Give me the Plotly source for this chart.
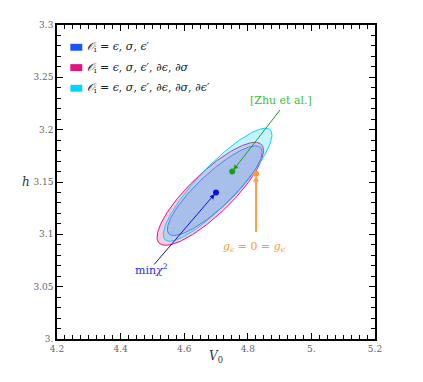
import numpy as np
import plotly.graph_objects as go

# ---- data ----
legend_labels = ["<i>𝒪</i><sub>i</sub> = <i>ϵ</i>, <i>σ</i>, <i>ϵ</i>′",
                 "<i>𝒪</i><sub>i</sub> = <i>ϵ</i>, <i>σ</i>, <i>ϵ</i>′, ∂<i>ϵ</i>, ∂<i>σ</i>",
                 "<i>𝒪</i><sub>i</sub> = <i>ϵ</i>, <i>σ</i>, <i>ϵ</i>′, ∂<i>ϵ</i>, ∂<i>σ</i>, ∂<i>ϵ</i>′"]
colors = ["#1a55f5", "#e0157f", "#00d4ff"]
line_colors = ["#5a7cf0", "#e0157f", "#18ccf8"]
# ellipse parameters (center V, center h, half-extent V, half-extent h, correlation)
ell_cV = [4.696, 4.682, 4.705]
ell_ch = [3.1417, 3.1387, 3.1474]
ell_sV = [0.149, 0.1675, 0.171]
ell_sh = [0.0428, 0.0492, 0.054]
ell_rho = [0.86, 0.84, 0.88]
fill_alpha = [0.12, 0.22, 0.24]

min_chi2 = (4.700, 3.140)
zhu = (4.751, 3.160)
g_zero = (4.826, 3.158)

x_ticks = [4.2, 4.4, 4.6, 4.8, 5.0, 5.2]
x_tick_text = ["4.2", "4.4", "4.6", "4.8", "5.", "5.2"]
y_ticks = [3.0, 3.05, 3.1, 3.15, 3.2, 3.25, 3.3]
y_tick_text = ["3.", "3.05", "3.1", "3.15", "3.2", "3.25", "3.3"]


def rgba(hexc, a):
    h = hexc.lstrip("#")
    r, g, b = int(h[0:2], 16), int(h[2:4], 16), int(h[4:6], 16)
    return f"rgba({r},{g},{b},{a})"


fig = go.Figure()
t = np.linspace(0, 2 * np.pi, 300)
order = [1, 2, 0]
for i in order:
    V = ell_cV[i] + ell_sV[i] * np.cos(t)
    h = ell_ch[i] + ell_sh[i] * (ell_rho[i] * np.cos(t) + np.sqrt(1 - ell_rho[i] ** 2) * np.sin(t))
    fig.add_trace(go.Scatter(x=V, y=h, mode="lines", fill="toself",
                             fillcolor=rgba(colors[i], fill_alpha[i]),
                             line=dict(color=line_colors[i], width=1.0),
                             showlegend=False, hoverinfo="skip"))

font_serif = "DejaVu Serif"

# legend (swatches + labels)
leg_y = [0.929, 0.8644, 0.7986]
for i in range(3):
    fig.add_shape(type="rect", xref="paper", yref="paper", x0=0.042, x1=0.0795,
                  y0=leg_y[i] - 0.011, y1=leg_y[i] + 0.011,
                  fillcolor=colors[i], line=dict(width=0))
    fig.add_annotation(x=0.089, y=leg_y[i], xref="paper", yref="paper", text=legend_labels[i],
                       showarrow=False, xanchor="left", yanchor="middle",
                       font=dict(family=font_serif, size=11, color="#222"))

# points
pts = [(min_chi2, "#1010e0"), (zhu, "#1a9e1a"), (g_zero, "#ff9a30")]
for (p, c) in pts:
    fig.add_trace(go.Scatter(x=[p[0]], y=[p[1]], mode="markers",
                             marker=dict(size=6, color=c), showlegend=False, hoverinfo="skip"))

# invisible trace on the minor-tick axes
fig.add_trace(go.Scatter(x=[None], y=[None], xaxis="x2", yaxis="y2",
                         showlegend=False, hoverinfo="skip"))

# arrows
arrows = [
    (min_chi2, (4.5016, 3.0698), "#1010e0", 1.0, 1.0),
    (zhu, (4.905, 3.2202), "#1a9e1a", 1.0, 1.0),
    (g_zero, (4.826, 3.1008), "#ffa040", 2.0, 0.6),
]
for (p, tail, c, w, s) in arrows:
    fig.add_annotation(x=p[0], y=p[1], ax=tail[0], ay=tail[1], xref="x", yref="y",
                       axref="x", ayref="y", showarrow=True, arrowhead=2, arrowsize=s,
                       arrowwidth=w, arrowcolor=c, text="", standoff=2)

labels = [
    ("min<i>χ</i><sup>2</sup>", (4.496, 3.066), "#2a2ae8"),
    ("[Zhu et al.]", (4.905, 3.2277), "#3cc03c"),
    ("<i>g<sub>ϵ</sub></i> = 0 = <i>g<sub>ϵ′</sub></i>", (4.823, 3.0876), "#ff9a30"),
]
for (txt, p, c) in labels:
    fig.add_annotation(x=p[0], y=p[1], xref="x", yref="y", text=txt, showarrow=False,
                       font=dict(family=font_serif, size=11, color=c))

fig.add_annotation(x=4.7, y=-0.09, xref="x", yref="paper", text="<i>V</i><sub>0</sub>",
                   showarrow=False, font=dict(family=font_serif, size=12, color="#333"))
fig.add_annotation(x=-0.115, y=3.15, xref="paper", yref="y", text="<i>h</i>",
                   showarrow=False, font=dict(family=font_serif, size=12, color="#333"))

axis_common = dict(showgrid=False, zeroline=False, showline=True, linecolor="black",
                   linewidth=1.5, mirror="allticks", ticks="inside", ticklen=6,
                   tickcolor="black", tickwidth=1,
                   tickfont=dict(family=font_serif, size=9, color="#666"))
minor_common = dict(ticks="inside", ticklen=4, tickcolor="black", tickwidth=1,
                    showticklabels=False, showgrid=False, zeroline=False,
                    showline=True, linecolor="black", linewidth=1.5, mirror="allticks")
fig.update_layout(
    xaxis=dict(range=[4.2, 5.2], tickmode="array", tickvals=x_ticks, ticktext=x_tick_text,
               **axis_common),
    yaxis=dict(range=[3.0, 3.3], tickmode="array", tickvals=y_ticks, ticktext=y_tick_text,
               **axis_common),
    xaxis2=dict(range=[4.2, 5.2], overlaying="x", tickmode="linear", tick0=4.2, dtick=0.025,
                **minor_common),
    yaxis2=dict(range=[3.0, 3.3], overlaying="y", tickmode="linear", tick0=3.0, dtick=0.01,
                **minor_common),
)

fig.update_layout(width=415, height=374, margin=dict(l=49, r=48, t=12, b=43),
                  plot_bgcolor="white", paper_bgcolor="white", showlegend=False)

fig.write_html("out.html")
